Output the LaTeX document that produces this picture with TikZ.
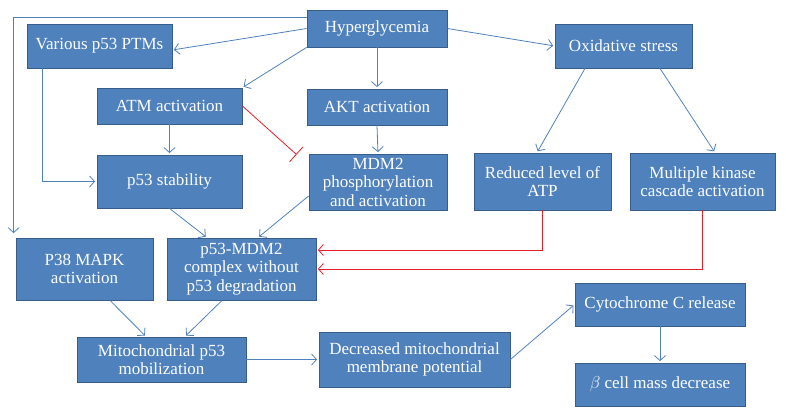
\documentclass[tikz,border=0pt]{standalone}
\usepackage{fontspec}
\setmainfont{Liberation Serif}
\usetikzlibrary{arrows.meta}
\definecolor{boxblue}{HTML}{4F81BD}
\definecolor{boxline}{HTML}{385D8A}
\definecolor{inhib}{RGB}{228,30,36}
\begin{document}
\begin{tikzpicture}[x=1pt,y=-1pt,
        box/.style={draw=boxline, line width=0.8pt, fill=boxblue, text=white, align=center, inner sep=0pt, font=\fontsize{17}{18.5}\selectfont},
        arr/.style={draw=boxblue, line width=0.8pt, shorten >=1.5pt, -{Straight Barb[length=5pt,width=11pt]}},
        redarr/.style={draw=inhib, line width=0.8pt, shorten >=1.5pt, -{Straight Barb[length=5pt,width=11pt]}},
        redbar/.style={draw=inhib, line width=0.8pt, -{Bar[width=20pt]}}]
    \useasboundingbox (0,0) rectangle (786,417);

    \node[box, minimum width=140pt, minimum height=37pt] (hyper) at (377,28.5) {Hyperglycemia};
    \node[box, minimum width=145pt, minimum height=44pt] (ptm) at (99.5,46) {Various p53 PTMs};
    \node[box, minimum width=137pt, minimum height=44pt] (oxi) at (623.5,46) {Oxidative stress};
    \node[box, minimum width=145pt, minimum height=36pt] (atm) at (169.5,106) {ATM activation};
    \node[box, minimum width=140pt, minimum height=36pt] (akt) at (377,107) {AKT activation};
    \node[box, minimum width=145pt, minimum height=53pt] (stab) at (169.5,181.5) {p53 stability};
    \node[box, minimum width=138pt, minimum height=56pt] (mdm) at (378,182) {MDM2\\phosphorylation\\and activation};
    \node[box, minimum width=137pt, minimum height=57pt] (atp) at (542.5,181.5) {Reduced level of\\ATP};
    \node[box, minimum width=145pt, minimum height=57pt] (kin) at (702.5,181.5) {Multiple kinase\\cascade activation};
    \node[box, minimum width=137pt, minimum height=62pt] (p38) at (84.5,269) {P38 MAPK\\activation};
    \node[box, minimum width=149pt, minimum height=62pt] (cplx) at (241.5,269) {p53-MDM2\\complex without\\p53 degradation};
    \node[box, minimum width=169pt, minimum height=45pt] (mito) at (161.5,359.5) {Mitochondrial p53\\mobilization};
    \node[box, minimum width=191pt, minimum height=55pt] (mmp) at (414.5,359.5) {Decreased mitochondrial\\membrane potential};
    \node[box, minimum width=170pt, minimum height=43pt] (cyto) at (660,304.5) {Cytochrome C release};
    \node[box, minimum width=170pt, minimum height=43pt] (beta) at (660,384.5) {$\beta$ cell mass decrease};

    \draw[arr] (hyper.west) -- ([yshift=-4pt]ptm.east);
    \draw[arr] (hyper.south west) -- (atm.north east);
    \draw[arr] (hyper.south) -- (akt.north);
    \draw[arr] (hyper.east) -- (oxi.west);
    \draw[arr] ([yshift=11.5pt]hyper.west) -| ([xshift=-2pt,yshift=3pt]p38.north west);
    \draw[arr] ([xshift=-57.5pt]ptm.south) |- (stab.west);
    \draw[arr] (atm.south) -- (stab.north);
    \draw[redbar] (atm.east) -- ([xshift=-12pt,yshift=-1pt]mdm.north west);
    \draw[arr] (akt.south) -- (mdm.north);
    \draw[arr] (oxi.south) ++(-38.5,0) -- ([xshift=-5.5pt]atp.north);
    \draw[arr] (oxi.south) ++(36.5,0) -- ([xshift=12.5pt]kin.north);
    \draw[arr] (stab.south) -- ([xshift=-34.5pt]cplx.north);
    \draw[arr] ([yshift=-14pt]mdm.west) -- ([xshift=16.5pt]cplx.north);
    \draw[redarr] (atp.south) |- ([yshift=19pt]cplx.east);
    \draw[redarr] (kin.south) |- (cplx.east);
    \draw[arr] ([xshift=25.5pt]p38.south) -- ([xshift=-15.5pt]mito.north);
    \draw[arr] ([xshift=-19.5pt]cplx.south) -- ([xshift=23.5pt]mito.north);
    \draw[arr] (mito.east) -- (mmp.west);
    \draw[arr] (mmp.east) -- (cyto.west);
    \draw[arr] (cyto.south) -- (beta.north);
\end{tikzpicture}
\end{document}
